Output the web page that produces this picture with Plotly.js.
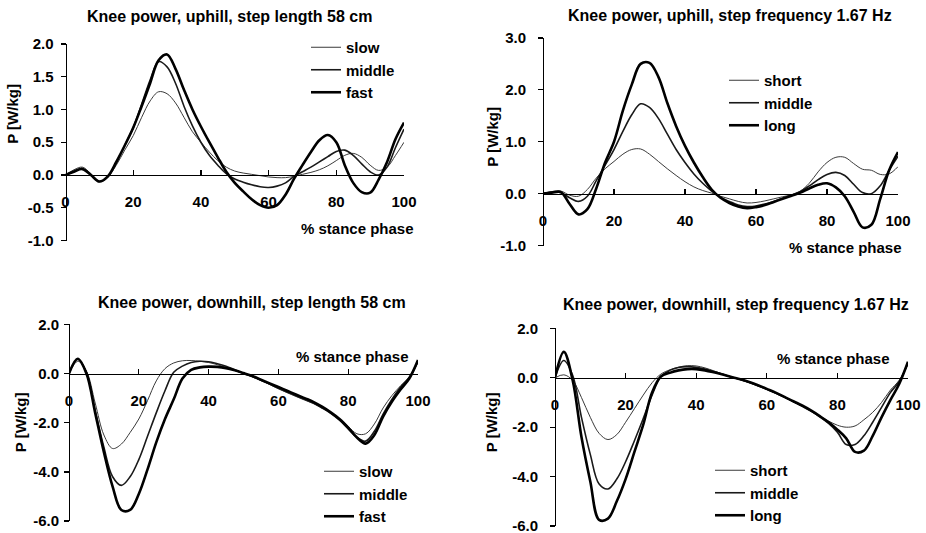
<!DOCTYPE html>
<html>
<head>
<meta charset="utf-8">
<script src="https://cdn.plot.ly/plotly-3.0.1.min.js"></script>
<style>html,body{margin:0;padding:0;background:#fff;}#chart{width:926px;height:533px;}</style>
</head>
<body>
<div id="chart"></div>
<script>
// % stance phase sample points
const stance = [0,2.5,5,7.5,10,12.5,15,17.5,20,22.5,25,27.5,30,32.5,35,37.5,40,42.5,45,47.5,50,52.5,55,57.5,60,62.5,65,67.5,70,72.5,75,77.5,80,82.5,85,87.5,90,92.5,95,97.5,100];

// Panel A: uphill, step length 58 cm
const upSlow   = [0,0.08,0.12,0.02,-0.1,-0.03,0.15,0.38,0.6,0.88,1.13,1.27,1.24,1.1,0.88,0.66,0.5,0.35,0.22,0.12,0.06,0.03,0.01,-0.01,-0.03,-0.04,-0.04,-0.02,0.01,0.04,0.08,0.14,0.22,0.3,0.33,0.27,0.15,0.07,0.12,0.3,0.5];
const upMiddle = [0,0.06,0.1,0.0,-0.1,-0.03,0.18,0.45,0.72,1.08,1.45,1.73,1.65,1.4,1.05,0.75,0.5,0.3,0.15,0.02,-0.06,-0.11,-0.15,-0.18,-0.19,-0.17,-0.12,-0.02,0.05,0.12,0.2,0.28,0.36,0.38,0.3,0.17,0.05,0.0,0.12,0.42,0.7];
const upFast   = [0,0.05,0.09,0.0,-0.1,-0.02,0.2,0.45,0.72,1.05,1.4,1.75,1.84,1.62,1.3,1.0,0.74,0.5,0.27,0.05,-0.12,-0.25,-0.37,-0.46,-0.5,-0.46,-0.3,-0.06,0.15,0.35,0.53,0.61,0.5,0.15,-0.12,-0.26,-0.27,-0.07,0.2,0.55,0.8];

// Panel B: uphill, step frequency 1.67 Hz
const upShort   = [0,0.04,0.05,-0.03,-0.05,0.08,0.3,0.48,0.62,0.76,0.85,0.86,0.76,0.62,0.48,0.35,0.23,0.13,0.06,0.01,-0.05,-0.1,-0.15,-0.18,-0.17,-0.14,-0.1,-0.06,-0.02,0.05,0.2,0.42,0.6,0.7,0.7,0.58,0.47,0.45,0.37,0.38,0.52];
const upMiddleF = [0,0.03,0.02,-0.08,-0.15,-0.05,0.25,0.55,0.85,1.2,1.52,1.73,1.66,1.45,1.15,0.85,0.6,0.38,0.2,0.05,-0.07,-0.15,-0.22,-0.25,-0.24,-0.2,-0.15,-0.09,-0.03,0.04,0.15,0.27,0.37,0.41,0.35,0.18,0.02,0.0,0.15,0.45,0.72];
const upLong    = [0,0.02,0.03,-0.2,-0.4,-0.3,0.1,0.6,1.0,1.6,2.1,2.5,2.52,2.25,1.75,1.3,0.92,0.6,0.32,0.08,-0.08,-0.18,-0.25,-0.28,-0.26,-0.22,-0.16,-0.1,-0.04,0.02,0.1,0.17,0.2,0.12,-0.05,-0.35,-0.65,-0.6,-0.1,0.45,0.8];

// Panel C: downhill, step length 58 cm
const dnSlow   = [0,0.5,0.1,-1.2,-2.5,-3.05,-2.87,-2.4,-1.85,-1.1,-0.3,0.2,0.43,0.52,0.53,0.5,0.45,0.36,0.25,0.12,0.0,-0.13,-0.28,-0.45,-0.62,-0.78,-0.93,-1.08,-1.22,-1.4,-1.6,-1.85,-2.15,-2.45,-2.45,-2.05,-1.4,-0.9,-0.5,-0.15,0.45];
const dnMiddle = [0,0.58,0.05,-1.5,-3.0,-4.2,-4.55,-4.2,-3.5,-2.55,-1.6,-0.7,0.05,0.3,0.45,0.5,0.48,0.4,0.3,0.15,0.0,-0.12,-0.27,-0.43,-0.6,-0.75,-0.9,-1.05,-1.2,-1.4,-1.62,-1.9,-2.25,-2.6,-2.75,-2.35,-1.65,-1.05,-0.55,-0.15,0.5];
const dnFast   = [0,0.6,0.0,-1.6,-3.2,-4.6,-5.55,-5.55,-4.9,-3.9,-2.8,-1.85,-1.05,-0.2,0.15,0.25,0.28,0.27,0.22,0.13,0.02,-0.1,-0.25,-0.4,-0.55,-0.7,-0.85,-1.0,-1.15,-1.35,-1.58,-1.85,-2.2,-2.6,-2.85,-2.5,-1.75,-1.15,-0.65,-0.2,0.55];

// Panel D: downhill, step frequency 1.67 Hz
const dnShort   = [0,0.12,-0.1,-0.8,-1.6,-2.25,-2.5,-2.3,-1.8,-1.25,-0.7,-0.2,0.15,0.32,0.43,0.49,0.48,0.4,0.28,0.15,0.03,-0.08,-0.2,-0.33,-0.47,-0.63,-0.8,-0.97,-1.15,-1.35,-1.55,-1.75,-1.92,-2.0,-1.95,-1.7,-1.4,-1.0,-0.5,-0.1,0.55];
const dnMiddleF = [0,0.7,0.1,-1.6,-3.1,-4.3,-4.5,-4.1,-3.4,-2.55,-1.65,-0.7,0.05,0.3,0.42,0.45,0.42,0.35,0.25,0.14,0.03,-0.07,-0.18,-0.32,-0.46,-0.62,-0.78,-0.96,-1.15,-1.35,-1.58,-1.85,-2.2,-2.7,-2.7,-2.35,-1.8,-1.2,-0.6,-0.15,0.6];
const dnLong    = [0,1.05,-0.1,-2.4,-4.2,-5.75,-5.7,-5.0,-4.1,-3.0,-1.9,-0.6,0.05,0.2,0.3,0.35,0.35,0.3,0.22,0.13,0.03,-0.06,-0.17,-0.3,-0.45,-0.6,-0.77,-0.95,-1.12,-1.32,-1.55,-1.8,-2.1,-2.45,-3.0,-2.95,-2.35,-1.6,-0.9,-0.25,0.65];

// Text
const panelTitles = ["Knee power, uphill, step length 58 cm","Knee power, uphill, step frequency 1.67 Hz","Knee power, downhill, step length 58 cm","Knee power, downhill, step frequency 1.67 Hz"];
const speedNames = ["slow","middle","fast"];
const lengthNames = ["short","middle","long"];
const yTitle = "P [W/kg]";
const xTitle = "% stance phase";
const xTickVals = [0,20,40,60,80,100];
const xTickText = ["0","20","40","60","80","100"];
const yTickValsA = [-1,-0.5,0,0.5,1,1.5,2];
const yTickTextA = ["-1.0","-0.5","0.0","0.5","1.0","1.5","2.0"];
const yTickValsB = [-1,0,1,2,3];
const yTickTextB = ["-1.0","0.0","1.0","2.0","3.0"];
const yTickValsC = [-6,-4,-2,0,2];
const yTickTextC = ["-6.0","-4.0","-2.0","0.0","2.0"];

const W = 926, H = 533;
const FONT = "Liberation Sans, Arial, sans-serif";
const px2x = p => p / W;
const px2y = p => 1 - p / H;

// panel geometry in pixels
const geo = [
  {xl:65.5, xr:404, yt:44, yb:241, yr:[-1,2], tv:yTickValsA, tt:yTickTextA, stand:4},
  {xl:543, xr:898, yt:38, yb:246, yr:[-1,3], tv:yTickValsB, tt:yTickTextB, stand:9},
  {xl:69, xr:418, yt:325, yb:522, yr:[-6,2], tv:yTickValsC, tt:yTickTextC, stand:2},
  {xl:555, xr:908, yt:329, yb:527, yr:[-6,2], tv:yTickValsC, tt:yTickTextC, stand:9}
];

const widths = [1, 1.6, 2.6];
const colors = ["#3a3a3a", "#1a1a1a", "#000000"];
const seriesSets = [
  [upSlow, upMiddle, upFast],
  [upShort, upMiddleF, upLong],
  [dnSlow, dnMiddle, dnFast],
  [dnShort, dnMiddleF, dnLong]
];
const nameSets = [speedNames, lengthNames, speedNames, lengthNames];

const data = [];
const layout = {
  width: W, height: H,
  margin: {l:0, r:0, t:0, b:0},
  paper_bgcolor: "#fff", plot_bgcolor: "rgba(0,0,0,0)",
  font: {family: FONT, size: 15, color: "#000", weight: "bold"},
  showlegend: true,
  annotations: []
};

geo.forEach((g, i) => {
  const n = i + 1;
  const xa = n === 1 ? "x" : "x" + n;
  const ya = n === 1 ? "y" : "y" + n;
  const xk = n === 1 ? "xaxis" : "xaxis" + n;
  const yk = n === 1 ? "yaxis" : "yaxis" + n;
  const lg = n === 1 ? "legend" : "legend" + n;
  const yd = [px2y(g.yb), px2y(g.yt)];
  const zeroPos = yd[0] + (0 - g.yr[0]) / (g.yr[1] - g.yr[0]) * (yd[1] - yd[0]);
  layout[xk] = {
    domain: [px2x(g.xl), px2x(g.xr)], range: [0, 100], anchor: "free", position: zeroPos,
    showline: true, linecolor: "#000", linewidth: 1.3, showgrid: false, zeroline: false,
    ticks: "inside", ticklen: 5, tickwidth: 1.3, tickcolor: "#000",
    tickvals: xTickVals, ticktext: xTickText, ticklabelstandoff: 13,
    ticklabeloverflow: "allow",
    tickfont: {family: FONT, size: 15, color: "#000", weight: "bold"}, fixedrange: true
  };
  layout[yk] = {
    domain: yd, range: g.yr, anchor: "free", position: px2x(g.xl),
    showline: true, linecolor: "#000", linewidth: 1.3, showgrid: false, zeroline: false,
    ticks: "outside", ticklen: 5, tickwidth: 1.3, tickcolor: "#000",
    tickvals: g.tv, ticktext: g.tt, ticklabelstandoff: g.stand,
    ticklabeloverflow: "allow",
    tickfont: {family: FONT, size: 15, color: "#000", weight: "bold"}, fixedrange: true
  };
  seriesSets[i].forEach((ys, k) => {
    data.push({
      type: "scatter", mode: "lines", x: stance, y: ys, xaxis: xa, yaxis: ya,
      name: nameSets[i][k], legend: lg, legendgroup: "g" + n + "_" + k,
      line: {color: colors[k], width: widths[k], shape: "spline", smoothing: 1},
      hoverinfo: "skip"
    });
  });
});

// legends
const legPos = [
  {x: 306, y: 31}, {x: 724, y: 64}, {x: 319, y: 456}, {x: 710, y: 454}
];
legPos.forEach((p, i) => {
  const lk = i === 0 ? "legend" : "legend" + (i + 1);
  layout[lk] = {
    x: px2x(p.x), y: px2y(p.y), xanchor: "left", yanchor: "top",
    bgcolor: "rgba(0,0,0,0)", borderwidth: 0,
    font: {family: FONT, size: 15, color: "#000", weight: "bold"},
    traceorder: "grouped", tracegroupgap: 0, itemwidth: 30
  };
});

// titles
const titlePos = [{x: 229, y: 17}, {x: 730, y: 16}, {x: 252, y: 303}, {x: 736, y: 305}];
titlePos.forEach((p, i) => {
  layout.annotations.push({
    text: panelTitles[i], xref: "paper", yref: "paper", x: px2x(p.x), y: px2y(p.y),
    xanchor: "center", yanchor: "middle", showarrow: false,
    font: {family: FONT, size: 16, color: "#000", weight: "bold"}
  });
});
// y titles
const yTitlePos = [{x: 13, y: 114}, {x: 493, y: 137}, {x: 20, y: 423}, {x: 491, y: 423}];
yTitlePos.forEach(p => {
  layout.annotations.push({
    text: yTitle, xref: "paper", yref: "paper", x: px2x(p.x), y: px2y(p.y),
    xanchor: "center", yanchor: "middle", showarrow: false, textangle: -90,
    font: {family: FONT, size: 15, color: "#000", weight: "bold"}
  });
});
// x titles
const xTitlePos = [{x: 357, y: 229}, {x: 845, y: 248}, {x: 352, y: 357}, {x: 833, y: 359}];
xTitlePos.forEach(p => {
  layout.annotations.push({
    text: xTitle, xref: "paper", yref: "paper", x: px2x(p.x), y: px2y(p.y),
    xanchor: "center", yanchor: "middle", showarrow: false,
    font: {family: FONT, size: 15, color: "#000", weight: "bold"}
  });
});

Plotly.newPlot("chart", data, layout, {displayModeBar: false, staticPlot: true});
</script>
</body>
</html>
